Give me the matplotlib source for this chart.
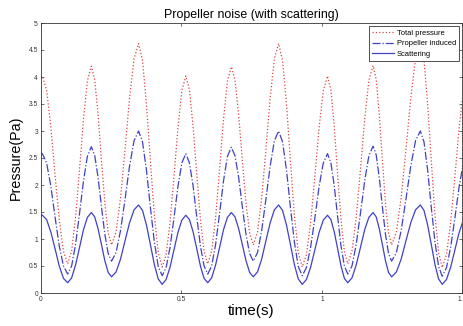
import matplotlib
matplotlib.use("Agg")
import matplotlib.pyplot as plt

# === DATA ===
time_s = [
    0.000, 0.006, 0.021, 0.036, 0.051, 0.066, 0.081, 0.096,
    0.110, 0.124, 0.138, 0.152, 0.166, 0.180,
    0.192, 0.204, 0.216, 0.228, 0.240, 0.252,
    0.268, 0.284, 0.300, 0.316, 0.332, 0.348,
    0.362, 0.376, 0.390, 0.404, 0.418, 0.432,
    0.446, 0.460, 0.474, 0.488, 0.502, 0.516,
    0.529, 0.542, 0.555, 0.568, 0.581, 0.594,
    0.608, 0.622, 0.636, 0.650, 0.664, 0.678,
    0.691, 0.704, 0.717, 0.730, 0.743, 0.756,
    0.771, 0.786, 0.801, 0.816, 0.831, 0.846,
    0.860, 0.874, 0.888, 0.902, 0.916, 0.930,
    0.945, 0.960, 0.975, 0.990, 1.005, 1.020,
    1.032, 1.044, 1.056, 1.068, 1.080, 1.092,
    1.107, 1.122, 1.137, 1.152, 1.167, 1.182,
    1.193, 1.204, 1.215, 1.226, 1.237, 1.248,
    1.265, 1.282, 1.299, 1.316, 1.333, 1.350,
    1.363, 1.376, 1.389, 1.402, 1.415, 1.428,
    1.443, 1.458, 1.473, 1.488, 1.503, 1.518,
]

total_pressure = [
    4.01, 4.02, 3.76, 3.08, 2.19, 1.36, 0.77, 0.54,
    0.78, 1.40, 2.28, 3.21, 3.93, 4.20,
    3.95, 3.31, 2.46, 1.67, 1.11, 0.89,
    1.13, 1.77, 2.66, 3.61, 4.34, 4.62,
    4.31, 3.50, 2.45, 1.45, 0.75, 0.48,
    0.71, 1.31, 2.16, 3.06, 3.75, 4.02,
    3.76, 3.08, 2.19, 1.36, 0.77, 0.54,
    0.78, 1.40, 2.28, 3.21, 3.93, 4.19,
    3.94, 3.30, 2.46, 1.67, 1.11, 0.89,
    1.13, 1.77, 2.66, 3.61, 4.34, 4.62,
    4.31, 3.50, 2.45, 1.45, 0.75, 0.48,
    0.71, 1.31, 2.16, 3.06, 3.75, 4.02,
    3.76, 3.08, 2.19, 1.36, 0.77, 0.54,
    0.78, 1.40, 2.28, 3.21, 3.94, 4.21,
    3.96, 3.31, 2.46, 1.67, 1.11, 0.89,
    1.13, 1.77, 2.66, 3.61, 4.34, 4.62,
    4.31, 3.50, 2.45, 1.45, 0.75, 0.47,
    0.71, 1.31, 2.16, 3.06, 3.75, 4.02,
]

propeller_induced = [
    2.57, 2.58, 2.41, 1.98, 1.41, 0.87, 0.50, 0.35,
    0.50, 0.90, 1.47, 2.07, 2.53, 2.71,
    2.55, 2.14, 1.60, 1.09, 0.73, 0.59,
    0.75, 1.16, 1.74, 2.35, 2.82, 3.00,
    2.80, 2.28, 1.59, 0.95, 0.49, 0.32,
    0.47, 0.85, 1.39, 1.97, 2.41, 2.58,
    2.41, 1.98, 1.41, 0.87, 0.50, 0.35,
    0.50, 0.90, 1.47, 2.07, 2.53, 2.70,
    2.54, 2.14, 1.60, 1.09, 0.73, 0.59,
    0.75, 1.16, 1.74, 2.35, 2.82, 3.00,
    2.80, 2.28, 1.59, 0.95, 0.49, 0.32,
    0.47, 0.85, 1.39, 1.97, 2.41, 2.58,
    2.41, 1.98, 1.41, 0.87, 0.50, 0.35,
    0.50, 0.90, 1.47, 2.07, 2.54, 2.72,
    2.56, 2.14, 1.60, 1.09, 0.73, 0.59,
    0.75, 1.16, 1.74, 2.35, 2.82, 3.00,
    2.80, 2.28, 1.59, 0.95, 0.49, 0.31,
    0.47, 0.85, 1.39, 1.97, 2.41, 2.58,
]

scattering = [
    1.44, 1.44, 1.36, 1.13, 0.82, 0.50, 0.27, 0.19,
    0.28, 0.52, 0.84, 1.17, 1.40, 1.49,
    1.41, 1.19, 0.90, 0.60, 0.38, 0.30,
    0.39, 0.63, 0.97, 1.30, 1.54, 1.63,
    1.53, 1.26, 0.90, 0.53, 0.26, 0.16,
    0.25, 0.48, 0.80, 1.12, 1.35, 1.44,
    1.36, 1.13, 0.82, 0.50, 0.27, 0.19,
    0.28, 0.52, 0.84, 1.17, 1.40, 1.49,
    1.41, 1.19, 0.90, 0.60, 0.38, 0.30,
    0.39, 0.63, 0.97, 1.30, 1.54, 1.63,
    1.53, 1.26, 0.90, 0.53, 0.26, 0.16,
    0.25, 0.48, 0.80, 1.12, 1.35, 1.44,
    1.36, 1.13, 0.82, 0.50, 0.27, 0.19,
    0.28, 0.52, 0.84, 1.17, 1.40, 1.49,
    1.41, 1.19, 0.90, 0.60, 0.38, 0.30,
    0.39, 0.63, 0.97, 1.30, 1.54, 1.63,
    1.53, 1.26, 0.90, 0.53, 0.26, 0.16,
    0.25, 0.48, 0.80, 1.12, 1.35, 1.44,
]

x_ticks = [0, 0.5, 1, 1.5]
x_tick_labels = ["0", "0.5", "1", "1.5"]
y_ticks = [0, 0.5, 1, 1.5, 2, 2.5, 3, 3.5, 4, 4.5, 5]
y_tick_labels = ["0", "0.5", "1", "1.5", "2", "2.5", "3", "3.5", "4", "4.5", "5"]

# === FIGURE ===
plt.rcParams['font.family'] = ['Liberation Sans', 'DejaVu Sans']

fig = plt.figure(figsize=(4.64, 3.26), dpi=100)
ax = fig.add_axes([40.7 / 464, 33 / 326, 421.8 / 464, 270 / 326])

red = '#e04444'
blue = '#4040c8'

ax.plot(time_s, total_pressure, linestyle=':', color=red, linewidth=0.9,
        label='Total pressure')
ax.plot(time_s, propeller_induced, linestyle='-.', color=blue, linewidth=0.9,
        label='Propeller induced')
ax.plot(time_s, scattering, linestyle='-', color=blue, linewidth=0.9,
        label='Scattering')

ax.set_xlim(0, 1.5)
ax.set_ylim(0, 5)
ax.set_xticks(x_ticks)
ax.set_xticklabels(x_tick_labels)
ax.set_yticks(y_ticks)
ax.set_yticklabels(y_tick_labels)

ax.tick_params(direction='in', length=2.5, width=0.5, labelsize=4.8,
               colors='#333333', pad=2, top=True, right=True)
for sp in ax.spines.values():
    sp.set_linewidth(0.6)
    sp.set_color('#333333')

ax.set_title('Propeller noise (with scattering)', fontsize=8.9, pad=3.5)
ax.set_xlabel('time(s)', fontsize=11, labelpad=1)
ax.set_ylabel('Pressure(Pa)', fontsize=10.3, labelpad=4)

leg = ax.legend(loc='upper right', fontsize=5.4, frameon=True, fancybox=False,
                framealpha=1, edgecolor='#333333', borderaxespad=0.45,
                handlelength=3.0, handletextpad=0.35, labelspacing=0.45,
                borderpad=0.4)
leg.get_frame().set_linewidth(0.6)

fig.savefig('out.png', dpi=100)
